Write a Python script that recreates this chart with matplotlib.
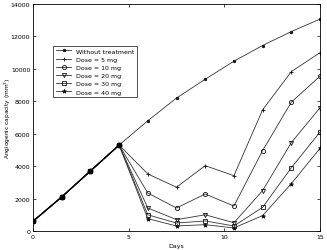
import matplotlib.pyplot as plt

days = [0, 1.5, 3, 4.5, 6, 7.5, 9, 10.5, 12, 13.5, 15]
start = [600, 2100, 3700, 5300]

no_treatment = start + [6800, 8200, 9360, 10470, 11440, 12300, 13070]
dose_5 = start + [3520, 2700, 4030, 3410, 7470, 9830, 11000]
dose_10 = start + [2340, 1420, 2280, 1540, 4960, 7940, 9550]
dose_20 = start + [1420, 700, 1000, 510, 2490, 5450, 7600]
dose_30 = start + [1000, 490, 620, 310, 1460, 3900, 6100]
dose_40 = start + [760, 310, 390, 190, 950, 2920, 5100]

labels = ['Without treatment', 'Dose = 5 mg', 'Dose = 10 mg',
          'Dose = 20 mg', 'Dose = 30 mg', 'Dose = 40 mg']
markers = ['.', '+', 'o', 'v', 's', '*']
series = [no_treatment, dose_5, dose_10, dose_20, dose_30, dose_40]

plt.rcParams['font.family'] = 'DejaVu Sans'
fig = plt.figure(figsize=(3.27, 2.51), dpi=100)
ax = fig.add_axes([33 / 327, 19 / 251, 287 / 327, 227 / 251])

for vals, mk, lab in zip(series, markers, labels):
    ax.plot(days, vals, color='#333333', linewidth=0.6, marker=mk,
            markersize=3.5 if mk == '.' else 3, markerfacecolor='none' if mk in 'ovs' else '#111111',
            markeredgecolor='#111111', markeredgewidth=0.6, label=lab)

# the shared start points look like filled blobs
ax.plot(days[:4], start, color='black', linewidth=1.0, marker='o',
        markersize=3.3, markerfacecolor='black', markeredgecolor='black')

ax.set_xlim(0, 15)
ax.set_ylim(0, 14000)
ax.set_xticks([0, 5, 10, 15])
ax.set_yticks(range(0, 14001, 2000))
ax.tick_params(direction='in', labelsize=4.5, length=2, width=0.5,
               top=True, right=True, pad=2)
for s in ax.spines.values():
    s.set_linewidth(0.6)
ax.set_xlabel('Days', fontsize=4.5, labelpad=3)
ax.set_ylabel('Angiogenic capacity (mm$^3$)', fontsize=4.2)
ax.yaxis.set_label_coords(-0.068, 0.5)

leg = ax.legend(loc='upper left', bbox_to_anchor=(0.06, 0.83), fontsize=4.5,
                frameon=True, fancybox=False, edgecolor='black',
                handlelength=2.5, borderpad=0.4, labelspacing=0.45)
leg.get_frame().set_linewidth(0.6)

fig.savefig('out.png', dpi=100)
